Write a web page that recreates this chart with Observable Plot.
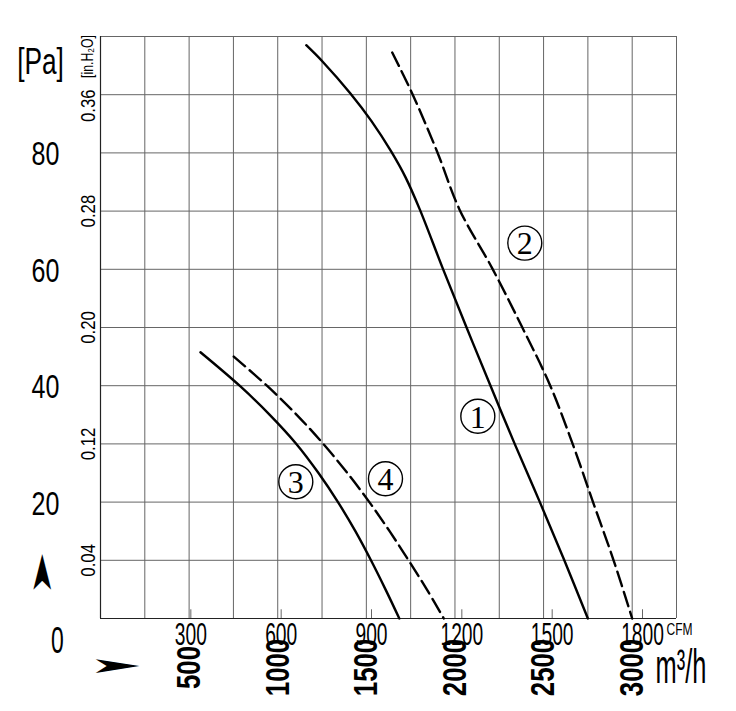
<!DOCTYPE html>
<html><head><meta charset="utf-8">
<script src="https://cdn.jsdelivr.net/npm/d3@7"></script>
<script src="https://cdn.jsdelivr.net/npm/@observablehq/plot@0.6"></script>
<style>body{margin:0;background:#fff}</style>
</head><body><div id="chart"></div>
<script>
// unit conversions
const M3H_PER_CFM = 1.699;
const PA_PER_INH2O = 249.09;

// curve data: air flow (m³/h) and static pressure (in.H2O)
const flow1 = [1161,1255,1409,1528,1640,1722,1802,1930,2062,2197,2337,2479,2617,2750];
const press1 = [0.394,0.3825,0.361,0.342,0.321,0.303,0.281,0.241,0.201,0.161,0.120,0.080,0.040,0];
const flow2 = [1646,1758,1899,2026,2209,2376,2534,2664,2779,2895,3000];
const press2 = [0.389,0.361,0.321,0.281,0.241,0.201,0.161,0.120,0.080,0.040,0];
const flow3 = [564,785,955,1105,1230,1340,1438,1526,1608,1686];
const press3 = [0.183,0.16,0.14,0.12,0.10,0.08,0.06,0.04,0.02,0];
const flow4 = [752,939,1107,1257,1393,1517,1631,1738,1841,1937];
const press4 = [0.180,0.16,0.14,0.12,0.10,0.08,0.06,0.04,0.02,0];

// curve number labels
const labelDigits = ["1","2","3","4"];
const labelFlow = [2129,2394,1102,1608];
const labelPress = [0.139,0.258,0.094,0.096];

// grid and tick values
const gridFlow = [0,250,500,750,1000,1250,1500,1750,2000,2250,2500,2750,3000,3250];
const gridPress = [0,0.04,0.08,0.12,0.16,0.20,0.24,0.28,0.32,0.36,0.40];
const inH2OTicks = [0.04,0.12,0.20,0.28,0.36];
const paTicks = [20,40,60,80];
const cfmTicks = [300,600,900,1200,1500,1800];
const m3hTicks = [500,1000,1500,2000,2500,3000];

const toRows = (f, p) => f.map((x, i) => ({flow: x, press: p[i]}));
const c1 = toRows(flow1, press1), c2 = toRows(flow2, press2),
      c3 = toRows(flow3, press3), c4 = toRows(flow4, press4);
const labels = labelDigits.map((t, i) => ({t, flow: labelFlow[i], press: labelPress[i]}));

const SANS = "Liberation Sans, Arial, sans-serif";
const lineOpts = {x: "flow", y: "press", curve: "catmull-rom", stroke: "#000", strokeWidth: 2.4};
const lastTick = inH2OTicks.slice(-1), otherTicks = inH2OTicks.slice(0, -1);

const chart = Plot.plot({
  width: 736, height: 711,
  marginLeft: 100, marginRight: 60, marginTop: 36, marginBottom: 93,
  x: {domain: [0, 3250], axis: null},
  y: {domain: [0, 0.40], axis: null},
  style: {background: "#fff", color: "#000"},
  marks: [
    Plot.ruleX(gridFlow, {stroke: "#666", strokeWidth: 1}),
    Plot.ruleY(gridPress, {stroke: "#666", strokeWidth: 1}),
    Plot.ruleX([0], {stroke: "#222", strokeWidth: 1.2}),
    Plot.ruleY([0], {stroke: "#222", strokeWidth: 1.2}),
    Plot.ruleX(cfmTicks, {x: d => d * M3H_PER_CFM, y1: 0, y2: 0.006, stroke: "#666"}),
    Plot.line(c1, lineOpts),
    Plot.line(c2, {...lineOpts, strokeDasharray: "15,6"}),
    Plot.line(c3, lineOpts),
    Plot.line(c4, {...lineOpts, strokeDasharray: "15,6"}),
    Plot.dot(labels, {x: "flow", y: "press", r: 17, stroke: "#000", strokeWidth: 1.4, fill: "none"}),
    Plot.text(labels, {x: "flow", y: "press", text: "t", fontFamily: "Liberation Serif, serif", fontSize: 32, dy: 1}),
    // Pa axis
    Plot.text(paTicks, {x: d => 0, y: d => d / PA_PER_INH2O, dx: -55, dy: 3, text: d => String(d), fontFamily: SANS, fontSize: 33}),
    Plot.text(["0"], {x: d => 0, y: d => 0, dx: -43, dy: 23, fontFamily: SANS, fontSize: 37}),
    Plot.text(["[Pa]"], {frameAnchor: "top-left", dx: -60, dy: 26, textAnchor: "middle", lineAnchor: "middle", fontFamily: SANS, fontSize: 36}),
    // in.H2O axis
    Plot.text(otherTicks, {x: d => 0, y: d => d, dx: -12, rotate: -90, text: d => d.toFixed(2), fontFamily: SANS, fontSize: 21}),
    Plot.text(lastTick, {x: d => 0, y: d => d, dx: -12, dy: 11, rotate: -90, text: d => d.toFixed(2), fontFamily: SANS, fontSize: 21}),
    Plot.text(["[in.H₂O]"], {frameAnchor: "top-left", dx: -13, dy: 20, rotate: -90, textAnchor: "middle", lineAnchor: "middle", fontFamily: SANS, fontSize: 17}),
    // CFM axis
    Plot.text(cfmTicks, {x: d => d * M3H_PER_CFM, y: d => 0, dy: 17, text: d => String(d), fontFamily: SANS, fontSize: 31}),
    Plot.text(["CFM"], {frameAnchor: "bottom-right", dx: -10, dy: 11, textAnchor: "start", lineAnchor: "middle", fontFamily: SANS, fontSize: 16}),
    // m³/h axis
    Plot.text(m3hTicks, {x: d => d, y: d => 0, dy: 49, rotate: -90, text: d => String(d), fontFamily: SANS, fontSize: 34, fontWeight: "bold"}),
    Plot.text(["m³/h"], {frameAnchor: "bottom-right", dx: -21, dy: 49, textAnchor: "start", lineAnchor: "middle", fontFamily: SANS, fontSize: 48}),
    // direction arrows
    Plot.text(["➤"], {frameAnchor: "bottom-left", dx: -58, dy: -45, rotate: -90, textAnchor: "middle", lineAnchor: "middle", fontFamily: "DejaVu Sans", fontSize: 28}),
    Plot.text(["➤"], {frameAnchor: "bottom-left", dx: 15, dy: 47, textAnchor: "middle", lineAnchor: "middle", fontFamily: "DejaVu Sans", fontSize: 22})
  ]
});

document.getElementById("chart").appendChild(chart);

// condense texts horizontally (the original uses a condensed typeface)
const condense = {33: 0.76, 37: 0.62, 36: 0.73, 21: 0.8, 17: 0.72, 31: 0.62, 16: 0.75, 34: 0.76, 48: 0.53};
const fixedLen = {28: 44, 22: 54};
chart.querySelectorAll("g[font-size]").forEach(g => {
  const fs = parseFloat(g.getAttribute("font-size"));
  g.querySelectorAll("text").forEach(t => {
    let s = null;
    if (condense[fs]) s = condense[fs];
    else if (fixedLen[fs]) s = fixedLen[fs] / t.getComputedTextLength();
    if (s) {
      const x = +t.getAttribute("x") || 0, y = +t.getAttribute("y") || 0;
      const tr = t.getAttribute("transform") || "";
      t.setAttribute("transform", `${tr} translate(${x},${y}) scale(${s},1) translate(${-x},${-y})`.trim());
    }
  });
});
</script>
</body></html>
